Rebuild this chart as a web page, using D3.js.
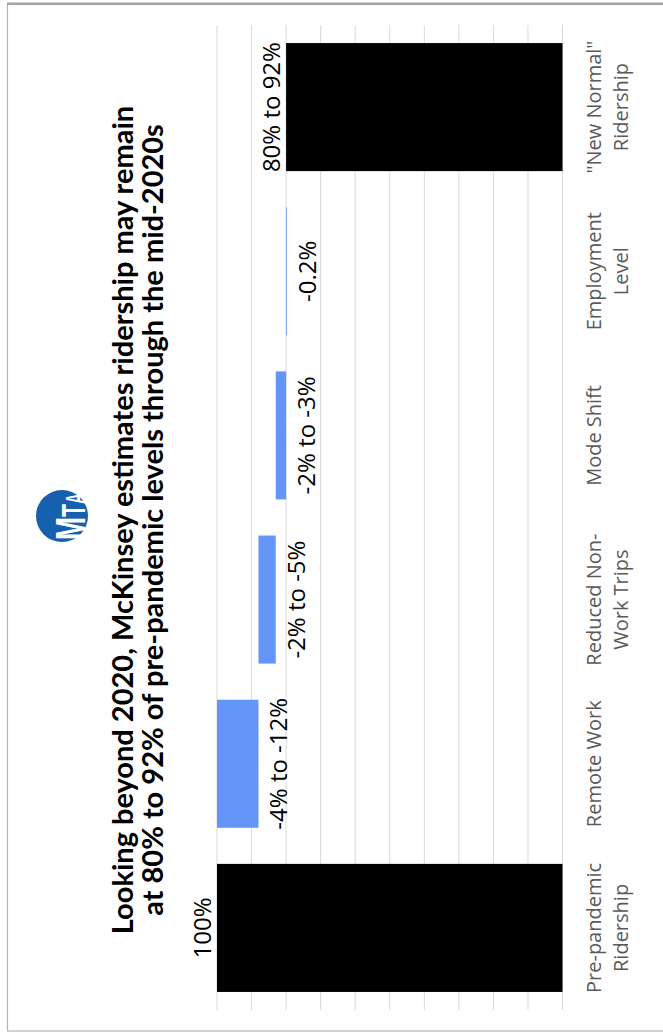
<!DOCTYPE html>
<html>
<head>
<meta charset="utf-8">
<script src="https://cdn.jsdelivr.net/npm/d3@7"></script>
<style>
  html, body { margin: 0; padding: 0; background: #fff; }
  svg { display: block; }
</style>
</head>
<body>
<svg id="chart" width="663" height="1034"></svg>
<script>
// Waterfall: ridership change from pre-pandemic levels (percent of pre-pandemic)
const categories = [
  "Pre-pandemic Ridership",
  "Remote Work",
  "Reduced Non-Work Trips",
  "Mode Shift",
  "Employment Level",
  "\"New Normal\" Ridership"
];
const categoryLines = [
  ["Pre-pandemic", "Ridership"],
  ["Remote Work"],
  ["Reduced Non-", "Work Trips"],
  ["Mode Shift"],
  ["Employment", "Level"],
  ["\"New Normal\"", "Ridership"]
];
const values = [100, -12, -5, -3, -0.2, 80];
const isTotal = [true, false, false, false, false, true];
const valueLabels = ["100%", "-4% to -12%", "-2% to -5%", "-2% to -3%", "-0.2%", "80% to 92%"];
const gridTicks = [0, 10, 20, 30, 40, 50, 60, 70, 80, 90, 100];

const titleLines = [
  "Looking beyond 2020, McKinsey estimates ridership may remain",
  "at 80% to 92% of pre-pandemic levels through the mid-2020s"
];

// The page is laid out sideways: build the chart in its own frame (W x H), then turn it.
const W = 1034, H = 663;
const svg = d3.select("#chart");

// outer frame
svg.append("rect")
  .attr("x", 7.5).attr("y", 4.5)
  .attr("width", 700).attr("height", 1026.5)
  .attr("fill", "none").attr("stroke", "#b4b4b4").attr("stroke-width", 1.2);
svg.append("line")
  .attr("x1", 7).attr("x2", 663).attr("y1", 3.5).attr("y2", 3.5)
  .attr("stroke", "#a0a0a0").attr("stroke-width", 2);

const g = svg.append("g").attr("transform", `translate(0,${W}) rotate(-90)`);

// running totals for floating bars
let running = 0;
const bars = values.map((v, i) => {
  let start, end;
  if (isTotal[i]) { start = 0; end = v; running = v; }
  else { start = running; end = running + v; running = end; }
  return { cat: categories[i], lines: categoryLines[i], label: valueLabels[i], total: isTotal[i], start, end, value: v };
});

const x = d3.scaleBand()
  .domain(categories)
  .range([24, 1009])
  .paddingInner(0.22)
  .paddingOuter(0.11);

const y = d3.scaleLinear()
  .domain([0, 100])
  .range([562.5, 217]);

// gridlines
g.append("g").selectAll("line")
  .data(gridTicks)
  .join("line")
  .attr("x1", 24).attr("x2", 1009)
  .attr("y1", d => y(d)).attr("y2", d => y(d))
  .attr("stroke", "#d9d9d9").attr("stroke-width", 1);

// bars
g.append("g").selectAll("rect")
  .data(bars)
  .join("rect")
  .attr("x", d => x(d.cat))
  .attr("width", x.bandwidth())
  .attr("y", d => y(Math.max(d.start, d.end)))
  .attr("height", d => Math.max(0.8, Math.abs(y(d.start) - y(d.end))))
  .attr("fill", d => d.total ? "#000000" : "#6495f9");

// value labels
g.append("g").selectAll("text")
  .data(bars)
  .join("text")
  .attr("x", d => x(d.cat) + x.bandwidth() / 2)
  .attr("y", d => d.total ? y(d.end) - 6 : y(d.end) + 29)
  .attr("text-anchor", "middle")
  .attr("font-family", "'Open Sans', sans-serif")
  .attr("font-size", 24)
  .attr("fill", "#000")
  .text(d => d.label);

// category labels
const catG = g.append("g").selectAll("text")
  .data(bars)
  .join("text")
  .attr("text-anchor", "middle")
  .attr("font-family", "'Open Sans', sans-serif")
  .attr("font-size", 20)
  .attr("fill", "#595959");
catG.selectAll("tspan")
  .data(d => d.lines.map(l => ({ l, cx: x(d.cat) + x.bandwidth() / 2 })))
  .join("tspan")
  .attr("x", d => d.cx)
  .attr("y", (d, i) => 601 + i * 27)
  .text(d => d.l);

// title
g.append("g").selectAll("text")
  .data(titleLines)
  .join("text")
  .attr("x", 514)
  .attr("y", (d, i) => 133 + i * 30)
  .attr("text-anchor", "middle")
  .attr("font-family", "Lato, 'Open Sans', sans-serif")
  .attr("font-weight", "bold")
  .attr("font-size", 29)
  .attr("fill", "#000")
  .text(d => d);

// MTA roundel: blue disc with receding white letters standing on its lower edge
const logo = g.append("g").attr("transform", "translate(518,62)");
logo.append("circle").attr("r", 26).attr("fill", "#1660ad");
const letters = [
  { ch: "M", x: -24, w: 23, size: 42 },
  { ch: "T", x: -1, w: 13, size: 34 },
  { ch: "A", x: 12, w: 11, size: 27 }
];
logo.selectAll("text.l")
  .data(letters)
  .join("text")
  .attr("class", "l")
  .attr("x", d => d.x)
  .attr("y", 23)
  .attr("textLength", d => d.w)
  .attr("lengthAdjust", "spacingAndGlyphs")
  .attr("font-family", "'Liberation Sans Narrow', 'Liberation Sans', sans-serif")
  .attr("font-weight", "bold")
  .attr("font-size", d => d.size)
  .attr("fill", "#fff")
  .text(d => d.ch);
</script>
</body>
</html>
